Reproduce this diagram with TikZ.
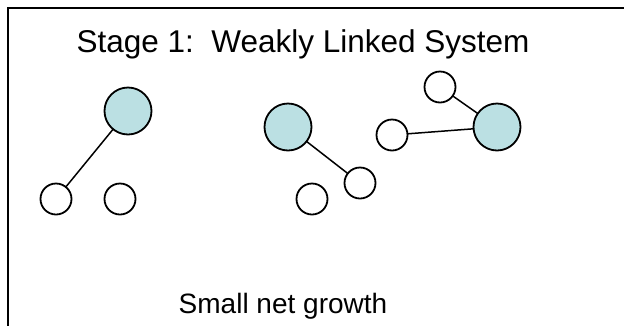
\documentclass[tikz,border=0pt]{standalone}
\usepackage{fontspec}
\setmainfont{Liberation Sans}
\definecolor{hubfill}{RGB}{187,224,227}
\begin{document}
\begin{tikzpicture}[x=1pt,y=-1pt,
  big/.style={circle,draw=black,line width=1.8pt,fill=hubfill,minimum size=47pt,inner sep=0pt,outer sep=0pt},
  small/.style={circle,draw=black,line width=1.8pt,fill=white,minimum size=31pt,inner sep=0pt,outer sep=0pt},
  link/.style={line width=1.5pt,draw=black},
  frame/.style={line width=2pt,draw=black}]
\useasboundingbox (0,0) rectangle (624,325);
\coordinate (fb) at (7.5,330);
\coordinate (fc) at (7.5,7.5);
\coordinate (fr) at (630,7.5);
\draw[frame] (fb) -- (fc) -- (fr);
\node[font=\fontsize{31.5}{36}\selectfont,anchor=base,inner sep=0pt] (title) at (303,52) {Stage 1:\ \ Weakly Linked System};
\node[font=\fontsize{28}{32}\selectfont,anchor=base,inner sep=0pt] (foot) at (283,313) {Small net growth};
\node[big] (h1) at (128,111) {};
\node[small] (a) at (56,199) {};
\node[small] (b) at (120,199) {};
\node[big] (h2) at (288,127) {};
\node[small] (c) at (360,183) {};
\node[small] (d) at (312,199) {};
\node[small] (e) at (392,135) {};
\node[big] (h3) at (497,127) {};
\node[small] (f) at (440,87) {};
\draw[link] (h1) -- (a);
\draw[link] (h2) -- (c);
\draw[link] (e) -- (h3);
\draw[link] (f) -- (h3);
\end{tikzpicture}
\end{document}
